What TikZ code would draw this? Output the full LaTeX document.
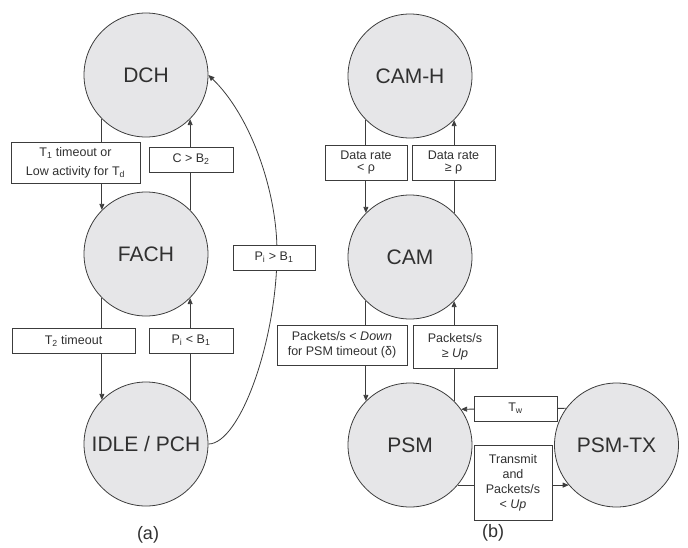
\documentclass[tikz,border=0pt]{standalone}
\usepackage{fontspec}
\setmainfont{Liberation Sans}
\usetikzlibrary{arrows.meta}
\definecolor{statefill}{HTML}{E6E6E8}
\definecolor{ink}{HTML}{3C3C3C}
\begin{document}
\begin{tikzpicture}[x=1pt,y=1pt,
  state/.style={circle, draw=ink, fill=statefill, line width=0.8pt, minimum size=124pt, inner sep=0pt,
    font=\fontsize{21}{24}\selectfont, text=ink!80!black},
  lblbox/.style 2 args={draw=ink, fill=white, line width=0.8pt, inner sep=0pt, align=center,
    minimum width=#1pt, minimum height=#2pt, text=ink!80!black, font=\fontsize{12.5}{15}\selectfont},
  arr/.style={draw=ink, line width=0.8pt, -{Triangle[length=6pt,width=5pt]}},
  captext/.style={font=\fontsize{18}{20}\selectfont, text=ink!80!black},
]
\useasboundingbox (0,0) rectangle (688,-547);

% ---- (a) ----
\node[state] (dch)  at (146,-75)  {DCH};
\node[state] (fach) at (146,-254) {FACH};
\node[state] (idle) at (146,-444) {IDLE / PCH};

\coordinate (cp) at (277,-252);
\draw[arr] (dch.south west) -- (fach.north west);
\draw[arr] (fach.north east) -- (dch.south east);
\draw[arr] (fach.south west) -- (idle.north west);
\draw[arr] (idle.north east) -- (fach.south east);
\draw[arr] (idle.east) .. controls (240,-444) and (277,-340) .. (cp)
                       .. controls (277,-190) and (250,-115) .. (dch.east);

\node[lblbox={129}{41}, font=\fontsize{12.5}{19}\selectfont] (t1) at (75.5,-162.5)
  {T\textsubscript{1} timeout or\\Low activity for T\textsubscript{d}};
\node[lblbox={84}{25}] (cb2) at (191,-159.5) {C > B\textsubscript{2}};
\node[lblbox={123}{25}] (t2) at (73.5,-340.5) {T\textsubscript{2} timeout};
\node[lblbox={84}{25}] (pib1) at (191,-340.5) {P\textsubscript{i} < B\textsubscript{1}};
\node[lblbox={82}{25}] (pigb1) at (274,-257.5) {P\textsubscript{i} > B\textsubscript{1}};

\node[captext] (capa) at (148,-535) {(a)};

% ---- (b) ----
\node[state] (camh)  at (410,-76)  {CAM-H};
\node[state] (cam)   at (410,-257) {CAM};
\node[state] (psm)   at (410,-445) {PSM};
\node[state] (psmtx) at (616.5,-445) {PSM-TX};

\draw[arr] (camh.south west) -- (cam.north west);
\draw[arr] (cam.north east) -- (camh.south east);
\draw[arr] (cam.south west) -- (psm.north west);
\draw[arr] (psm.north east) -- (cam.south east);
\draw[arr] (psmtx.144.5) -- (psm.35.5);
\draw[arr] (psm.-40) -- (psmtx.-140);

\node[lblbox={82}{35}, font=\fontsize{12.5}{12.5}\selectfont] (drl) at (366,-162.5) {Data rate\\< ρ};
\node[lblbox={83}{35}, font=\fontsize{12.5}{12.5}\selectfont] (drg) at (453.5,-162.5) {Data rate\\≥ ρ};
\node[lblbox={130}{40}] (pkd) at (342,-345) {Packets/s < \textit{Down}\\for PSM timeout (δ)};
\node[lblbox={84}{43}] (pku) at (455,-346.5) {Packets/s\\≥ \textit{Up}};
\node[lblbox={83}{25}] (tw) at (515.5,-408.5) {T\textsubscript{w}};
\node[lblbox={78}{75}] (tx) at (513,-482.5) {Transmit\\and\\Packets/s\\< \textit{Up}};

\node[captext] (capb) at (493,-533) {(b)};
\end{tikzpicture}
\end{document}
